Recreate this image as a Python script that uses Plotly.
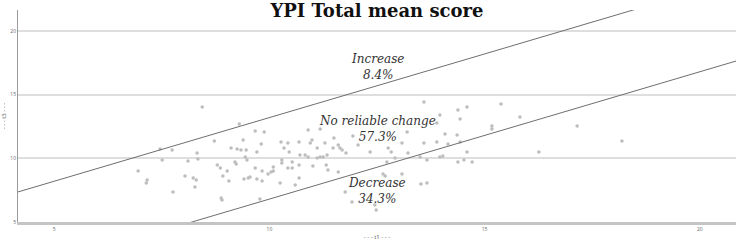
import plotly.graph_objects as go

t1 = [6.95, 7.14, 7.16, 7.46, 7.51, 7.74, 7.76, 8.04, 8.11, 8.23, 8.27, 8.30, 8.32, 8.34, 8.44,
      8.72, 8.79, 8.86, 8.88, 8.92, 9.02, 9.06, 9.11, 9.20, 9.23, 9.25, 9.30, 9.34, 9.39, 9.41,
      9.44, 9.46, 9.48, 9.51, 9.55, 9.67, 9.67, 9.71, 9.71, 9.78, 9.81, 9.83, 9.83, 9.88, 9.97,
      10.04, 10.09, 10.09, 10.25, 10.27, 10.29, 10.29, 10.34, 10.43, 10.43, 10.46, 10.53, 10.53,
      10.60, 10.69, 10.69, 10.69, 10.71, 10.83, 10.90, 10.90, 10.95, 10.99, 11.01, 11.11, 11.11,
      11.18, 11.18, 11.25, 11.29, 11.32, 11.34, 11.36, 11.48, 11.50, 11.60, 11.60, 11.64, 11.69,
      11.76, 11.78, 11.92, 11.94, 12.06, 12.34, 12.45, 12.64, 12.69, 12.73, 12.76, 12.83, 12.92,
      13.08, 13.08, 13.20, 13.22, 13.50, 13.52, 13.59, 13.59, 13.66, 13.66, 13.89, 13.89, 13.96,
      13.96, 14.03, 14.08, 14.15, 14.36, 14.38, 14.38, 14.43, 14.43, 14.52, 14.59, 14.59, 14.71,
      15.17, 15.17, 15.38, 15.82, 16.26, 17.15, 18.19, 8.90, 12.48]
t3 = [9.01, 8.06, 8.30, 10.73, 9.87, 10.66, 7.36, 8.61, 9.79, 8.46, 7.75, 8.30, 10.42, 9.95, 14.03,
      11.36, 9.48, 9.24, 6.89, 8.61, 9.01, 8.22, 10.81, 9.71, 9.56, 10.73, 12.70, 10.66, 11.44, 8.38,
      10.11, 10.66, 9.87, 8.46, 8.53, 12.15, 9.24, 10.50, 8.38, 6.81, 11.13, 9.01, 8.22, 12.07, 8.77,
      8.93, 9.32, 9.01, 8.06, 11.28, 9.87, 9.63, 10.81, 11.21, 9.24, 10.50, 9.71, 9.24,
      7.91, 11.28, 9.48, 8.46, 10.26, 10.26, 12.23, 10.11, 11.21, 11.44, 9.40, 10.81, 10.03,
      12.31, 10.11, 10.11, 11.21, 9.48, 10.26, 9.08, 10.81, 11.60, 11.05, 8.93, 10.81, 10.66,
      7.36, 10.42, 6.57, 11.76, 11.05, 10.50, 6.34, 8.77, 8.61, 9.71, 10.81, 10.50, 10.03,
      11.21, 8.77, 12.07, 10.42, 10.11, 7.99, 14.43, 11.21, 9.87, 8.06, 12.78, 11.28, 13.41,
      10.11, 10.18, 11.91, 11.13, 11.83, 13.80, 9.71, 13.09, 11.28, 9.87, 14.03, 10.50, 9.71,
      12.54, 12.31, 14.27, 13.25, 10.50, 12.54, 11.36, 6.73, 5.94]

rci = 3.2
x_range = [4.16, 20.84]
y_range = [5.0, 21.65]
tick_vals = [5, 10, 15, 20]
region_labels = ["Increase<br>8.4%", "No reliable change<br>57.3%", "Decrease<br>34.3%"]
region_y = [17.17, 12.3, 7.43]  # label centre heights (t3 units)

fig = go.Figure()
fig.add_trace(go.Scatter(
    x=t1, y=t3, mode="markers",
    marker=dict(size=3.5, color="#bdbdbd"),
    hoverinfo="x+y", showlegend=False))
fig.add_trace(go.Scatter(
    x=x_range, y=[v + rci for v in x_range], mode="lines",
    line=dict(color="#6e6e6e", width=1), showlegend=False, hoverinfo="skip"))
fig.add_trace(go.Scatter(
    x=x_range, y=[v - rci for v in x_range], mode="lines",
    line=dict(color="#6e6e6e", width=1), showlegend=False, hoverinfo="skip"))

for lab, yy in zip(region_labels, region_y):
    fig.add_annotation(
        x=0.5, xref="paper", y=yy, yref="y", text="<i>" + lab + "</i>",
        showarrow=False, font=dict(family="DejaVu Serif", size=12, color="#333333"),
        align="center")

fig.update_layout(
    width=736, height=241,
    margin=dict(l=18, r=0, t=10, b=19, autoexpand=False),
    paper_bgcolor="white", plot_bgcolor="white",
    title=dict(text="<b>YPI Total mean score</b>", x=0.5, xref="paper", xanchor="center",
               y=0.955, yref="container", yanchor="middle",
               font=dict(family="DejaVu Serif", size=18, color="#111111")),
    xaxis=dict(range=x_range, tickvals=tick_vals, showgrid=False, zeroline=False,
               showline=True, linecolor="#c4c4c4", linewidth=3, automargin=False,
               tickfont=dict(size=5, color="#666666"), ticks="",
               title=dict(text="- - - t1 - - -", font=dict(size=6, color="#555555"), standoff=4)),
    yaxis=dict(range=y_range, tickvals=tick_vals, showgrid=True, gridcolor="#dedede", gridwidth=1.5,
               zeroline=False, showline=True, linecolor="#9a9a9a", linewidth=1, automargin=False,
               tickfont=dict(size=5, color="#666666"), ticks="",
               title=dict(text="- - - t3 - - -", font=dict(size=6, color="#555555"), standoff=3)),
)

fig.write_html("out.html", config={"displayModeBar": False},
               post_script="document.body.style.margin='0';")
